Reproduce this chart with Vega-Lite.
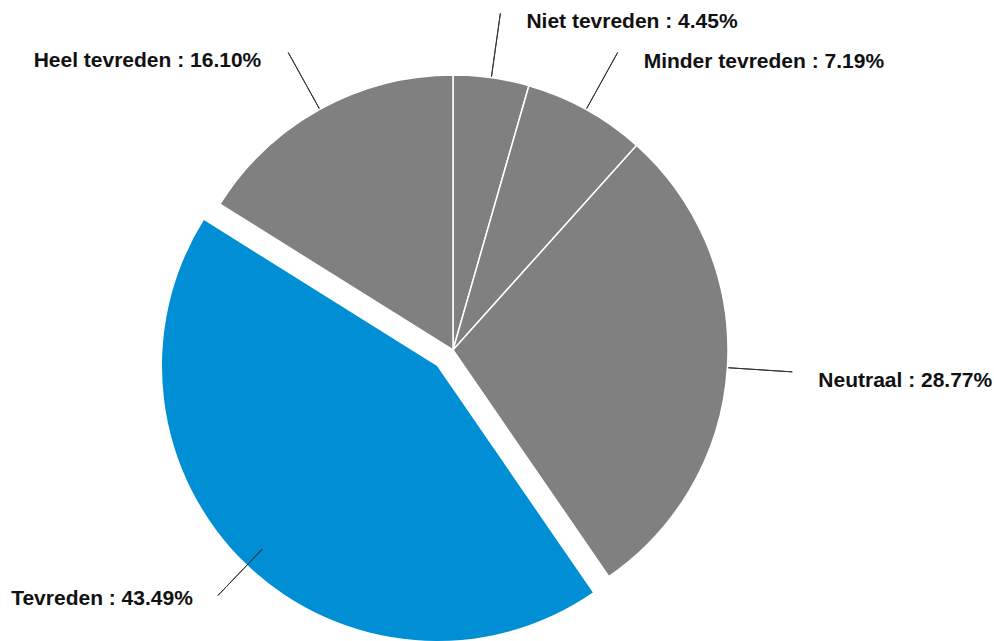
{
  "$schema": "https://vega.github.io/schema/vega-lite/v6.json",
  "width": 906,
  "height": 582,
  "autosize": {"type": "none"},
  "padding": {"left": 0, "top": 59, "right": 88, "bottom": 0},
  "background": "white",
  "view": {"stroke": null},
  "data": {
    "values": [
      {"category": "Niet tevreden", "value": 4.45, "order": 1, "label": "Niet tevreden : 4.45%"},
      {"category": "Minder tevreden", "value": 7.19, "order": 2, "label": "Minder tevreden : 7.19%"},
      {"category": "Neutraal", "value": 28.77, "order": 3, "label": "Neutraal : 28.77%"},
      {"category": "Tevreden", "value": 43.49, "order": 4, "label": "Tevreden : 43.49%"},
      {"category": "Heel tevreden", "value": 16.10, "order": 5, "label": "Heel tevreden : 16.10%"}
    ]
  },
  "transform": [
    {"stack": "value", "groupby": [], "sort": [{"field": "order", "order": "ascending"}], "as": ["start", "end"]},
    {"calculate": "(datum.start + datum.end) / 2", "as": "mid"}
  ],
  "layer": [
    {
      "transform": [{"filter": "datum.category !== 'Tevreden'"}],
      "mark": {"type": "arc", "outerRadius": 275, "fill": "#808080", "stroke": "white", "strokeWidth": 1.5},
      "encoding": {
        "theta": {"field": "start", "type": "quantitative", "scale": {"domain": [0, 100]}},
        "theta2": {"field": "end"}
      }
    },
    {
      "transform": [{"filter": "datum.category === 'Tevreden'"}],
      "mark": {"type": "arc", "outerRadius": 275, "fill": "#008fd5", "xOffset": -16, "yOffset": 16},
      "encoding": {
        "theta": {"field": "start", "type": "quantitative", "scale": {"domain": [0, 100]}},
        "theta2": {"field": "end"}
      }
    },
    {
      "mark": {"type": "arc", "radius": 340, "radius2": 276, "fillOpacity": 0, "stroke": "#333333", "strokeWidth": 1},
      "encoding": {
        "theta": {"field": "mid", "type": "quantitative", "scale": {"domain": [0, 100]}},
        "theta2": {"field": "mid"}
      }
    },
    {
      "transform": [{"filter": "datum.order <= 3"}],
      "mark": {"type": "text", "radius": 340, "align": "left", "baseline": "alphabetic", "dx": 26, "dy": 15, "font": "Liberation Sans", "fontWeight": "bold", "fontSize": 21, "fill": "#111111"},
      "encoding": {
        "theta": {"field": "mid", "type": "quantitative", "stack": null, "scale": {"domain": [0, 100]}},
        "text": {"field": "label"}
      }
    },
    {
      "transform": [{"filter": "datum.category === 'Heel tevreden'"}],
      "mark": {"type": "text", "radius": 340, "align": "right", "baseline": "alphabetic", "dx": -27, "dy": 14, "font": "Liberation Sans", "fontWeight": "bold", "fontSize": 21, "fill": "#111111"},
      "encoding": {
        "theta": {"field": "mid", "type": "quantitative", "stack": null, "scale": {"domain": [0, 100]}},
        "text": {"field": "label"}
      }
    },
    {
      "transform": [{"filter": "datum.category === 'Tevreden'"}],
      "mark": {"type": "text", "radius": 340, "align": "right", "baseline": "alphabetic", "dx": -25, "dy": 9, "font": "Liberation Sans", "fontWeight": "bold", "fontSize": 21, "fill": "#111111"},
      "encoding": {
        "theta": {"field": "mid", "type": "quantitative", "stack": null, "scale": {"domain": [0, 100]}},
        "text": {"field": "label"}
      }
    }
  ]
}
